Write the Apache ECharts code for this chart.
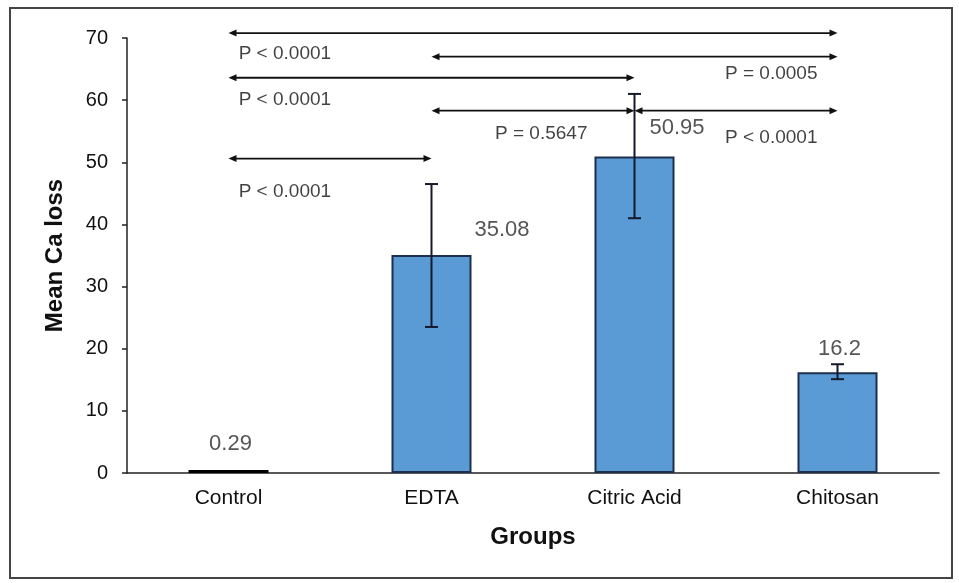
<!DOCTYPE html>
<html><head><meta charset="utf-8">
<script src="https://cdn.jsdelivr.net/npm/echarts@6/dist/echarts.min.js"></script>
<style>html,body{margin:0;padding:0;background:#fff}#c{width:959px;height:583px}</style>
</head><body><div id="c"></div>
<script>
var categories = ['Control', 'EDTA', 'Citric Acid', 'Chitosan'];
var means = [0.29, 35.08, 50.95, 16.2];
var errLow = [0.2, 23.5, 41.0, 15.1];
var errHigh = [0.4, 46.5, 61.0, 17.5];
var yTicks = [0, 10, 20, 30, 40, 50, 60, 70];
// pairwise comparisons (category indices) and the height of each arrow
var compFrom = [0, 1, 0, 1, 2, 0];
var compTo = [3, 3, 2, 2, 3, 1];
var compY = [70.8, 67.0, 63.6, 58.3, 58.3, 50.6];
// p-value annotations: text and anchor (category units, value units)
var pText = ['P < 0.0001', 'P = 0.0005', 'P < 0.0001', 'P = 0.5647', 'P < 0.0001', 'P < 0.0001'];
var pX = [0.05, 2.446, 0.05, 1.313, 2.446, 0.05];
var pY = [67.5, 64.3, 60.0, 54.6, 54.0, 45.3];

var chart = echarts.init(document.getElementById('c'));
var font = 'Liberation Sans, Arial, sans-serif';

var valueLabelStyles = [
  { position: 'top', distance: 16, offset: [2, 0] },
  { position: 'right', distance: 0, offset: [43, -25] },
  { position: 'right', distance: 0, offset: [15, -28] },
  { position: 'top', distance: 12, offset: [2, 0] }
];

chart.setOption({
  animation: false,
  backgroundColor: '#fff',
  grid: { left: 127, right: 20, top: 38, bottom: 110 },
  graphic: [{
    type: 'rect', shape: { x: 10, y: 8, width: 942, height: 570 },
    style: { fill: 'none', stroke: '#444', lineWidth: 2 }, z: -1
  }],
  xAxis: [{
    type: 'category', data: categories,
    axisLine: { lineStyle: { color: '#222', width: 1.5 } },
    axisTick: { show: false },
    axisLabel: { color: '#111', fontSize: 21, fontFamily: font, margin: 15 },
    name: 'Groups', nameLocation: 'middle', nameGap: 52,
    nameTextStyle: { color: '#111', fontSize: 24, fontWeight: 'bold', fontFamily: font }
  }, {
    type: 'value', min: -0.5, max: 3.5, show: false
  }],
  yAxis: {
    type: 'value', min: 0, max: 70, interval: 10,
    axisLine: { show: true, onZero: false, lineStyle: { color: '#222', width: 1.5 } },
    axisTick: { show: true, length: 5, lineStyle: { color: '#222', width: 1.5 } },
    splitLine: { show: false },
    axisLabel: { color: '#111', fontSize: 20, fontFamily: font, margin: 19,
      formatter: function (v) { return yTicks.indexOf(v) >= 0 ? String(v) : ''; } },
    name: 'Mean Ca loss', nameLocation: 'middle', nameGap: 60,
    nameTextStyle: { color: '#111', fontSize: 24, fontWeight: 'bold', fontFamily: font }
  },
  series: [{
    type: 'bar', barWidth: 80, barMinHeight: 3,
    data: means.map(function (v, i) {
      return i === 0
        ? { value: v, itemStyle: { color: '#000', borderColor: '#000', borderWidth: 2 } }
        : v;
    }),
    itemStyle: { color: '#5B9BD5', borderColor: '#1d2f4f', borderWidth: 2 }
  }, {
    type: 'custom', xAxisIndex: 0, clip: false,
    data: categories.map(function (c, i) { return [i, errLow[i], errHigh[i]]; }),
    renderItem: function (params, api) {
      if (params.dataIndex === 0) return null;
      var lo = api.coord([api.value(0), api.value(1)]);
      var hi = api.coord([api.value(0), api.value(2)]);
      var w = 6.5;
      var st = { stroke: '#15192a', lineWidth: 2 };
      return { type: 'group', children: [
        { type: 'line', shape: { x1: lo[0], y1: lo[1], x2: hi[0], y2: hi[1] }, style: st },
        { type: 'line', shape: { x1: lo[0] - w, y1: lo[1], x2: lo[0] + w, y2: lo[1] }, style: st },
        { type: 'line', shape: { x1: hi[0] - w, y1: hi[1], x2: hi[0] + w, y2: hi[1] }, style: st }
      ] };
    },
    z: 5
  }, {
    type: 'scatter', xAxisIndex: 0, symbolSize: 0, z: 6,
    data: means.map(function (v, i) {
      var s = valueLabelStyles[i];
      return { value: [i, v], label: { position: s.position, distance: s.distance, offset: s.offset } };
    }),
    label: { show: true, fontSize: 22, color: '#2a2a2a', fontFamily: font,
      formatter: function (p) { return String(means[p.dataIndex]); } }
  }, {
    type: 'custom', xAxisIndex: 1, clip: false, z: 4,
    data: compFrom.map(function (f, i) { return [f, compTo[i], compY[i]]; }),
    renderItem: function (params, api) {
      var a = api.coord([api.value(0), api.value(2)]);
      var b = api.coord([api.value(1), api.value(2)]);
      var h = 8, hw = 3.5, y = a[1];
      var col = '#111';
      return { type: 'group', children: [
        { type: 'line', shape: { x1: a[0] + h - 1, y1: y, x2: b[0] - h + 1, y2: y }, style: { stroke: col, lineWidth: 1.8 } },
        { type: 'polygon', shape: { points: [[a[0], y], [a[0] + h, y - hw], [a[0] + h, y + hw]] }, style: { fill: col } },
        { type: 'polygon', shape: { points: [[b[0], y], [b[0] - h, y - hw], [b[0] - h, y + hw]] }, style: { fill: col } }
      ] };
    }
  }, {
    type: 'scatter', xAxisIndex: 1, symbolSize: 0,
    data: pX.map(function (x, i) { return [x, pY[i]]; }),
    label: { show: true, position: 'right', distance: 0, fontSize: 19, color: '#111', fontFamily: font,
      formatter: function (p) { return pText[p.dataIndex]; } }
  }]
});
</script></body></html>
